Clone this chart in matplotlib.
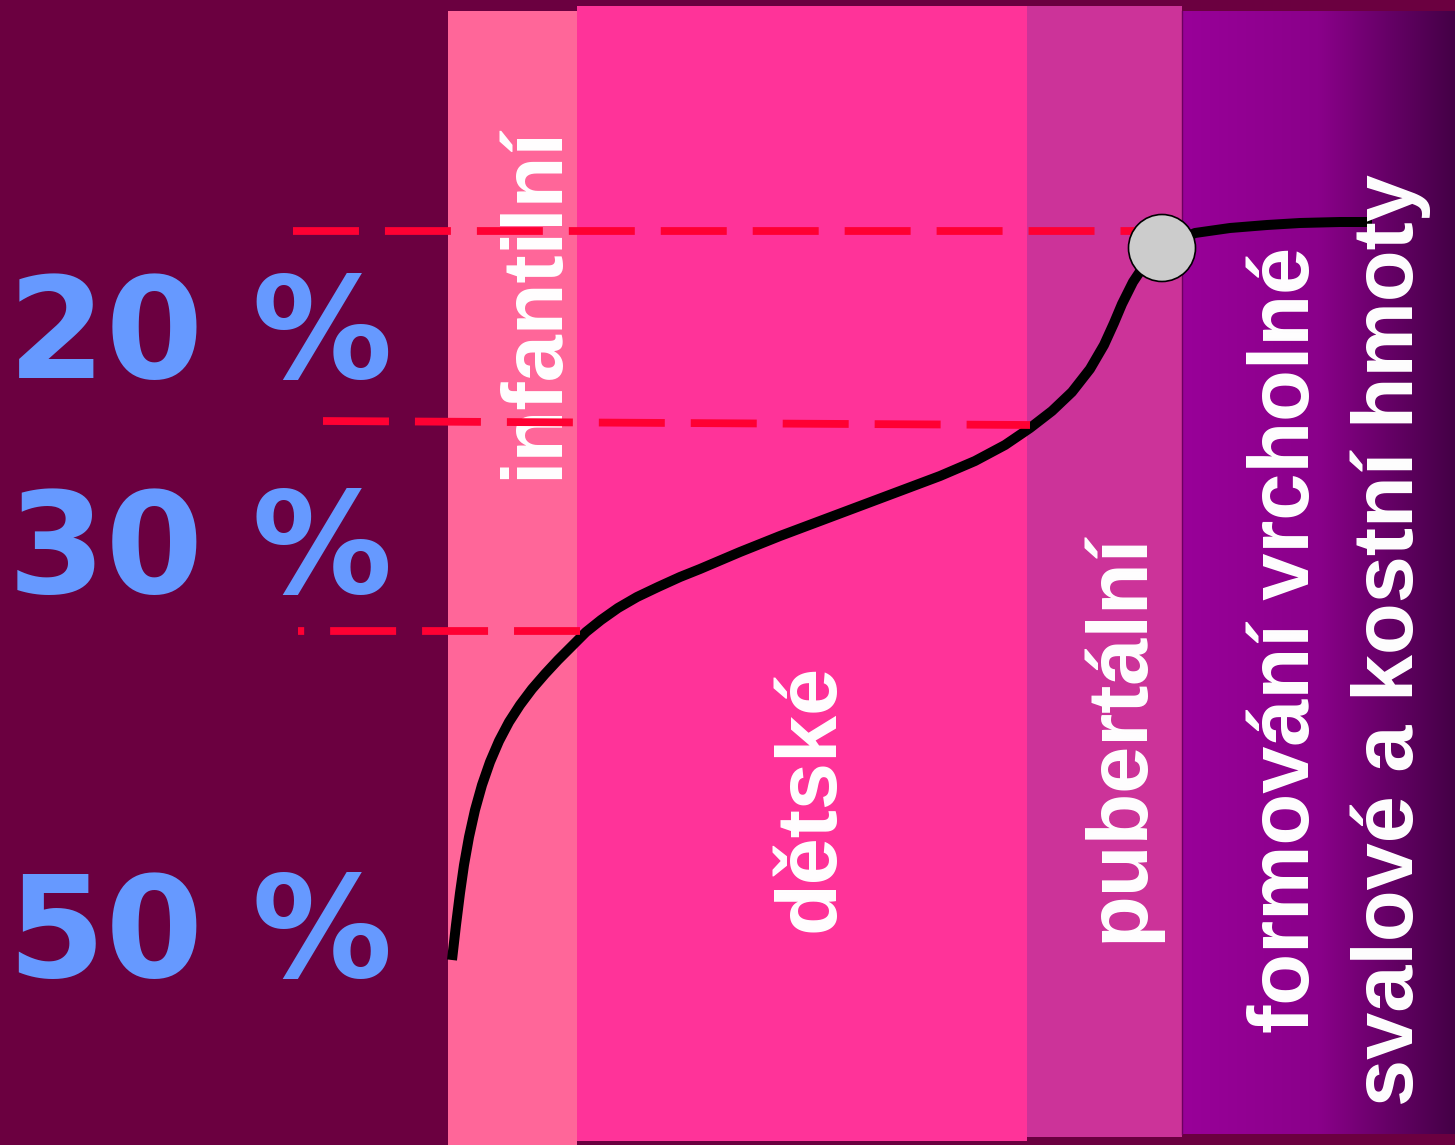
import matplotlib
matplotlib.use("Agg")
import matplotlib.pyplot as plt
from matplotlib.patches import Rectangle, Circle
from matplotlib.colors import LinearSegmentedColormap
import numpy as np

# stages of bone development (horizontal extent in picture units)
stage_edges = [448, 577, 1027, 1182, 1455]
stage_tops = [11, 6, 6, 11]
stage_bottoms = [1145, 1141, 1137, 1134]
stage_colors = ["#FF6699", "#FF3399", "#CC3399", None]

labels = ["infantilní", "dětské", "pubertální", "formování vrcholné", "svalové a kostní hmoty"]
label_x = [557, 833, 1142, 1309, 1413]
label_y = [303, 798, 737, 640, 640]

percent_labels = ["20 %", "30 %", "50 %"]
percent_baseline = [378, 593, 977]

# dashed guides: start and end points
guide_x0 = [293, 323, 580]
guide_y0 = [231, 421, 631]
guide_x1 = [1140, 1030, 298]
guide_y1 = [231, 425, 631]

# bone mass curve
curve_x = [452, 456, 460, 464, 469, 475, 482, 490, 499, 509, 520, 532, 545,
           558, 572, 586, 601, 618, 637, 658, 680, 700, 740, 780, 820, 860,
           900, 940, 975, 1005, 1030, 1052, 1072, 1090, 1104, 1114, 1122,
           1133, 1145, 1162,
           1195, 1230, 1267, 1300, 1340, 1372]
curve_y = [960, 925, 893, 865, 837, 810, 785, 762, 741, 722, 705, 689, 674,
           660, 646, 632, 620, 608, 597, 587, 577, 569, 552, 536, 521, 506,
           491, 476, 461, 445, 428, 411, 392, 369, 345, 323, 304,
           282, 264, 248,
           233, 228, 225, 223, 222, 222]
peak = (1162, 248)

W, H = 1455, 1145
plt.rcParams["lines.scale_dashes"] = False

fig = plt.figure(figsize=(W / 100, H / 100), dpi=100)
fig.patch.set_facecolor("#6B0040")
ax = fig.add_axes([0, 0, 1, 1])

for i, color in enumerate(stage_colors):
    left, right = stage_edges[i], stage_edges[i + 1]
    top, bottom = stage_tops[i], stage_bottoms[i]
    if color is not None:
        ax.add_patch(Rectangle((left, top), right - left, bottom - top,
                               facecolor=color, edgecolor="none", zorder=1))
    else:
        cmap = LinearSegmentedColormap.from_list("peak", ["#990099", "#8A008A", "#440046"])
        grad = np.linspace(0, 1, 256).reshape(1, -1)
        ax.imshow(grad, cmap=cmap, aspect="auto", extent=(left, right, bottom, top),
                  zorder=1, interpolation="bicubic")
        ax.plot([left, left], [top, bottom], color="#6E0060", lw=1, zorder=1.5)

ax.set_xlim(0, W)
ax.set_ylim(H, 0)
ax.axis("off")

ax.plot(curve_x, curve_y, color="black", lw=7.2, solid_capstyle="butt",
        solid_joinstyle="round", zorder=2)

for text, x, y in zip(labels, label_x, label_y):
    ax.text(x, y, text, rotation=90, rotation_mode="anchor", ha="center",
            va="baseline", color="white", fontsize=61,
            family="Liberation Sans", fontweight="bold", zorder=3)

for text, y in zip(percent_labels, percent_baseline):
    ax.text(8, y, text, ha="left", va="baseline", color="#6699FF",
            fontsize=101, family="DejaVu Sans", fontweight="bold", zorder=3)

for x0, y0, x1, y1 in zip(guide_x0, guide_y0, guide_x1, guide_y1):
    ax.plot([x0, x1], [y0, y1], color="#FF0033", lw=5.6,
            dashes=(47.5, 18.7), dash_capstyle="butt", zorder=4)

ax.add_patch(Circle(peak, 33.5, facecolor="#CCCCCC", edgecolor="black",
                    lw=1.2, zorder=5))

fig.savefig("out.png", dpi=100, facecolor=fig.get_facecolor())
